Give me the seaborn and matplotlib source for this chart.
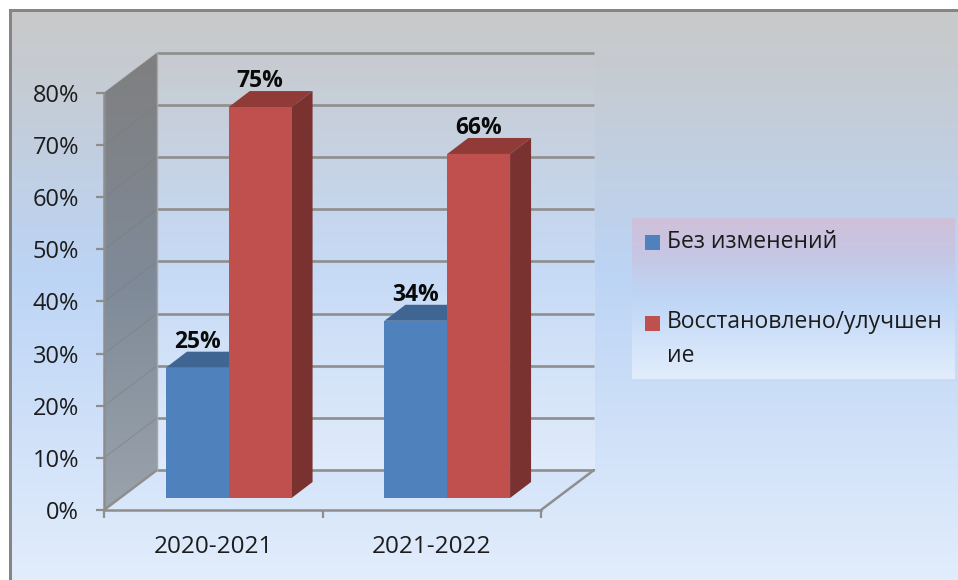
import numpy as np
import pandas as pd
import matplotlib
matplotlib.use('Agg')
import matplotlib.pyplot as plt
import seaborn as sns
from matplotlib.colors import LinearSegmentedColormap, to_rgb
from matplotlib.patches import Polygon, Rectangle
from matplotlib.transforms import Affine2D

years = ['2020-2021', '2021-2022']
no_change = [25, 34]
improved = [75, 66]
series_names = ['Без изменений', 'Восстановлено/улучшение']
legend_labels = ['Без изменений', 'Восстановлено/улучшен\nие']
y_ticks = [0, 10, 20, 30, 40, 50, 60, 70, 80]

BLUE, RED = '#4F81BD', '#C0504D'
TOP = {BLUE: '#3F6692', RED: '#913B38'}
SIDE = {BLUE: '#345478', RED: '#7A3230'}
GRID = '#8E8E8E'
FONT = 'Open Sans'

df = pd.DataFrame({'year': years, series_names[0]: no_change, series_names[1]: improved})
df = df.melt(id_vars='year', var_name='series', value_name='value')

sns.set_theme(style='white')
plt.rcParams['font.family'] = [FONT, 'DejaVu Sans']

W, H = 958, 580
fig = plt.figure(figsize=(W / 100, H / 100), dpi=100, facecolor='white')

# background layer works in image pixels
bg = fig.add_axes([0, 0, 1, 1], zorder=0)
bg.set_xlim(0, W)
bg.set_ylim(H, 0)
bg.axis('off')


def vgrad(stops, extent, clip=None, alpha=None, zorder=1):
    cmap = LinearSegmentedColormap.from_list('g', stops)
    grad = np.linspace(0, 1, 256).reshape(-1, 1)
    im = bg.imshow(grad, cmap=cmap, extent=extent, aspect='auto', zorder=zorder, alpha=alpha)
    if clip is not None:
        im.set_clip_path(clip)
    return im


vgrad([(0, '#C9C9C9'), (0.1, '#C6CBD1'), (0.46, '#BCD4F5'), (1, '#E2EDFC')], [11, W, H, 10])
bg.set_xlim(0, W)
bg.set_ylim(H, 0)
bg.add_patch(Rectangle((10, 9), W, 2.5, color='#858585', lw=0, zorder=2))
bg.add_patch(Rectangle((9.5, 9), 2.5, H, color='#858585', lw=0, zorder=2))

# chart axes: front plane of the 3D box
X0, X1, Y0, Y80 = 104, 541, 510, 93
DX, DY = 53, -40
ax = fig.add_axes([X0 / W, 1 - Y0 / H, (X1 - X0) / W, (Y0 - Y80) / H], zorder=2)
ax.patch.set_alpha(0)

sns.barplot(data=df, x='year', y='value', hue='series', hue_order=series_names,
            palette=[BLUE, RED], width=0.575, gap=0, saturation=1, legend=False, ax=ax)
ax.set_xlim(-0.5, 1.5)
ax.set_ylim(0, 80)
ax.set_yticks(y_ticks)
ax.set_yticklabels([f'{t}%' for t in y_ticks], fontsize=17, color='#1c1c1c')
ax.set_xlabel('')
ax.set_ylabel('')
ax.set_xticks([0, 1])
ax.set_xticklabels(years, fontsize=17.5, color='#1c1c1c')
ax.set_xticks([-0.5, 0.5, 1.5], minor=True)
ax.tick_params(axis='x', which='major', length=0, pad=18)
ax.tick_params(axis='x', which='minor', length=6, width=1.6, color=GRID, bottom=True)
ax.tick_params(axis='y', length=6, width=1.6, color=GRID, pad=12, left=True)
for name, sp in ax.spines.items():
    sp.set_visible(name in ('left', 'bottom'))
    sp.set_color(GRID)
    sp.set_linewidth(1.8)

# back wall, side wall, floor and grid
fig.canvas.draw()
to_px = lambda x, y: (ax.transData.transform((x, y))[0], H - ax.transData.transform((x, y))[1])

wall_tint = np.ones((256, 1, 4))
wall_tint[:, 0, 3] = np.linspace(0.02, 0.28, 256)
bg.imshow(wall_tint, extent=[X0 + DX, X1 + DX + 1, Y0 + DY, Y80 + DY], aspect='auto', zorder=2.1)

side = Polygon([(X0, Y0), (X0 + DX, Y0 + DY), (X0 + DX, Y80 + DY), (X0, Y80)],
               transform=bg.transData, fc='none', lw=0)
bg.add_patch(side)
vgrad([(0, '#7F7F7F'), (0.5, '#7F8A98'), (1, '#9AA3AC')], [X0, X0 + DX, Y0, Y80 + DY], clip=side, zorder=2.2)
bg.set_xlim(0, W)
bg.set_ylim(H, 0)

for t in y_ticks:
    _, yp = to_px(0, t)
    bg.plot([X0 + DX, X1 + DX], [yp + DY] * 2, color=GRID, lw=1.9, zorder=3, solid_capstyle='butt')
    if t > 0:
        bg.plot([X0, X0 + DX], [yp, yp + DY], color='#7C7C78', lw=0.9, alpha=0.45, zorder=3)
bg.plot([X0, X0 + DX], [Y0, Y0 + DY], color=GRID, lw=1.8, zorder=3)
bg.plot([X1, X1 + DX], [Y0, Y0 + DY], color=GRID, lw=1.8, zorder=3)
bg.plot([X0 + DX] * 2, [Y0 + DY, Y80 + DY], color='#A8A8A8', lw=1.0, zorder=3)

# bars sit inside the box: shift them and add top and side faces
SHIFT_X, SHIFT_Y = 15.5, 12
BAR_DX, BAR_DY = 21, -16
shift = Affine2D().translate(SHIFT_X, SHIFT_Y)
for bar in ax.patches:
    bar.set_transform(ax.transData + shift)
    bar.set_clip_on(False)
    bar.set_linewidth(0)
    col = BLUE if abs(bar.get_facecolor()[2] - to_rgb(BLUE)[2]) < 0.01 else RED
    x1, y1 = to_px(bar.get_x(), bar.get_height())
    x2, y2 = to_px(bar.get_x() + bar.get_width(), 0)
    x1, x2 = x1 + SHIFT_X, x2 + SHIFT_X
    y1, y2 = y1 - SHIFT_Y, y2 - SHIFT_Y
    z = 4 if col == BLUE else 5
    bg.add_patch(Polygon([(x1, y1), (x1 + BAR_DX, y1 + BAR_DY), (x2 + BAR_DX, y1 + BAR_DY), (x2, y1)],
                         fc=TOP[col], lw=0, zorder=z))
    bg.add_patch(Polygon([(x2, y1), (x2 + BAR_DX, y1 + BAR_DY), (x2 + BAR_DX, y2 + BAR_DY), (x2, y2)],
                         fc=SIDE[col], lw=0, zorder=z))
    ax.annotate(f'{int(round(bar.get_height()))}%', (bar.get_x() + bar.get_width() / 2, bar.get_height()),
                xytext=(SHIFT_X * 0.72, (SHIFT_Y + 26) * 0.72), textcoords='offset points',
                ha='center', va='center', fontsize=16.5, fontweight='bold', color='#0a0a0a',
                annotation_clip=False)

# legend box
vgrad([(0, '#D0C0DA'), (0.22, '#C6C6E4'), (0.5, '#BFD6F6'), (1, '#E2EDFC')], [632, 955, 379, 218], zorder=2)
bg.set_xlim(0, W)
bg.set_ylim(H, 0)
for col, label, ytop, ytext in zip([BLUE, RED], legend_labels, [235, 316], [242, 322]):
    bg.add_patch(Rectangle((645, ytop), 15, 15, fc=col, lw=0, zorder=3))
    first_line = label.split('\n')
    for i, line in enumerate(first_line):
        bg.text(667, ytext + 34 * i, line, fontsize=16.5, color='#1c1c1c', va='center', ha='left', zorder=3)

plt.savefig('out.png', dpi=100)
